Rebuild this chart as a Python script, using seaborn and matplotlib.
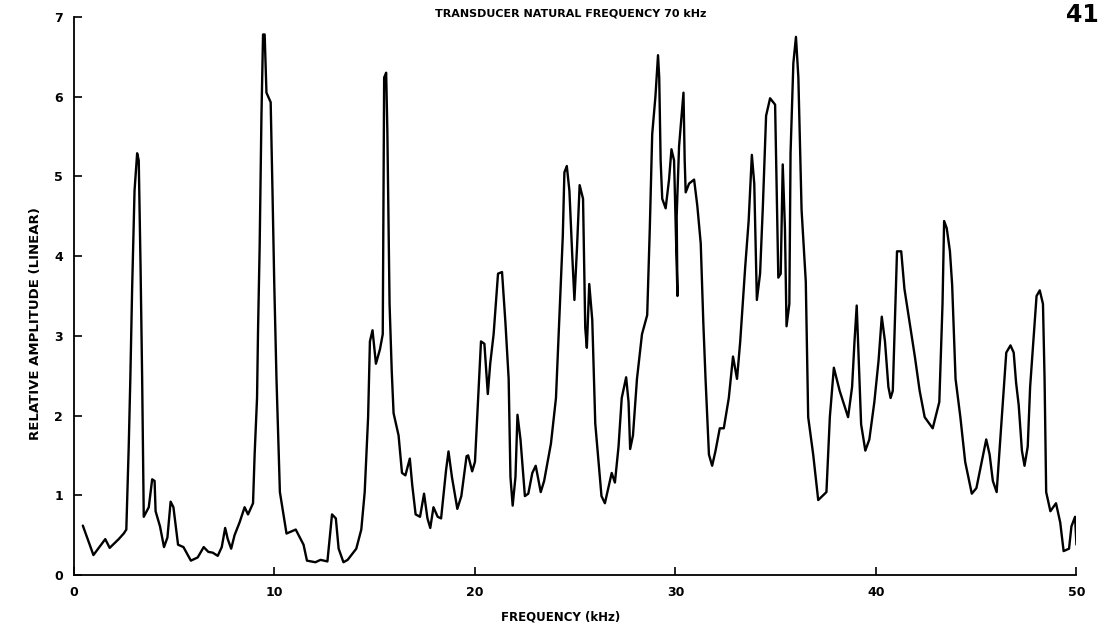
import matplotlib
matplotlib.use("Agg")
import matplotlib.pyplot as plt
import seaborn as sns
import pandas as pd

# Frequency (kHz) and relative amplitude
freq_khz = [
    0.44, 0.97, 1.56, 1.78, 2.23, 2.48, 2.61, 2.73, 2.81, 2.90, 3.02, 3.15, 3.23, 3.32, 3.40, 3.48,
    3.73, 3.90, 4.02, 4.07, 4.29, 4.49, 4.66, 4.82, 4.96, 5.19, 5.46, 5.83, 6.17, 6.47, 6.70, 6.92,
    7.17, 7.37, 7.54, 7.67, 7.84, 8.01, 8.26, 8.51, 8.68, 8.93, 9.01, 9.13, 9.18, 9.26, 9.35, 9.43,
    9.51, 9.60, 9.81, 9.90, 9.99, 10.10, 10.27, 10.60, 11.06, 11.45, 11.62, 12.04, 12.30, 12.64, 12.87,
    13.06, 13.20, 13.44, 13.65, 14.08, 14.33, 14.50, 14.67, 14.76, 14.89, 15.06, 15.26, 15.40, 15.47,
    15.57, 15.63, 15.74, 15.85, 15.94, 16.19, 16.36, 16.53, 16.75, 16.87, 17.04, 17.26, 17.46, 17.63,
    17.77, 17.93, 18.14, 18.31, 18.56, 18.68, 18.85, 19.12, 19.32, 19.58, 19.66, 19.86, 20.00, 20.17,
    20.30, 20.47, 20.64, 20.76, 20.93, 21.15, 21.35, 21.52, 21.68, 21.77, 21.88, 22.02, 22.12, 22.27,
    22.49, 22.66, 22.86, 23.03, 23.28, 23.45, 23.79, 24.04, 24.24, 24.38, 24.46, 24.58, 24.71, 24.85,
    24.96, 25.09, 25.22, 25.39, 25.50, 25.58, 25.70, 25.85, 26.00, 26.20, 26.31, 26.48, 26.65, 26.82,
    26.98, 27.16, 27.32, 27.54, 27.66, 27.74, 27.88, 28.08, 28.33, 28.59, 28.72, 28.84, 29.00, 29.13,
    29.19, 29.26, 29.34, 29.51, 29.68, 29.80, 29.93, 30.00, 30.10, 30.06, 30.18, 30.40, 30.46, 30.51,
    30.68, 30.93, 31.09, 31.26, 31.39, 31.50, 31.67, 31.83, 32.00, 32.21, 32.41, 32.66, 32.87, 33.07,
    33.23, 33.48, 33.65, 33.81, 33.93, 34.06, 34.22, 34.36, 34.52, 34.72, 34.97, 35.05, 35.13, 35.25,
    35.35, 35.46, 35.54, 35.68, 35.74, 35.88, 36.01, 36.13, 36.29, 36.50, 36.62, 36.87, 37.12, 37.53,
    37.70, 37.90, 38.19, 38.61, 38.81, 38.93, 39.04, 39.14, 39.26, 39.47, 39.67, 39.92, 40.13, 40.29,
    40.45, 40.62, 40.73, 40.84, 40.97, 41.05, 41.26, 41.42, 41.62, 41.94, 42.18, 42.43, 42.83, 43.16,
    43.32, 43.40, 43.53, 43.69, 43.80, 43.97, 44.21, 44.45, 44.78, 45.01, 45.31, 45.50, 45.67, 45.83,
    46.02, 46.15, 46.31, 46.50, 46.71, 46.87, 46.99, 47.12, 47.28, 47.41, 47.57, 47.69, 47.85, 48.01,
    48.17, 48.33, 48.41, 48.49, 48.70, 48.98, 49.19, 49.36, 49.63, 49.75, 49.93, 50.00,
]
amplitude = [
    0.62, 0.25, 0.45, 0.34, 0.45, 0.52, 0.57, 1.61, 2.46, 3.59, 4.82, 5.29, 5.20, 3.87, 2.46, 0.73,
    0.85, 1.20, 1.18, 0.80, 0.61, 0.35, 0.47, 0.92, 0.85, 0.38, 0.35, 0.18, 0.22, 0.35, 0.29, 0.28,
    0.24, 0.35, 0.59, 0.45, 0.33, 0.50, 0.66, 0.85, 0.76, 0.90, 1.51, 2.22, 3.07, 4.11, 5.76, 6.78,
    6.78, 6.05, 5.93, 4.82, 3.64, 2.46, 1.04, 0.52, 0.57, 0.38, 0.18, 0.16, 0.19, 0.17, 0.76,
    0.71, 0.33, 0.16, 0.19, 0.33, 0.57, 1.04, 1.98, 2.93, 3.07, 2.65, 2.83, 3.02, 6.24,
    6.30, 5.57, 3.40, 2.55, 2.03, 1.75, 1.28, 1.25, 1.46, 1.13, 0.76, 0.73, 1.02, 0.71,
    0.59, 0.85, 0.73, 0.71, 1.32, 1.55, 1.23, 0.83, 0.99, 1.49, 1.50, 1.30, 1.42, 2.27,
    2.93, 2.90, 2.27, 2.65, 3.02, 3.78, 3.80, 3.16, 2.46, 1.23, 0.87, 1.23, 2.01, 1.70,
    0.99, 1.02, 1.28, 1.37, 1.04, 1.18, 1.65, 2.22, 3.40, 4.25, 5.05, 5.13, 4.82, 4.02,
    3.45, 4.11, 4.89, 4.72, 3.10, 2.85, 3.65, 3.20, 1.90, 1.32, 0.99, 0.90, 1.09, 1.28,
    1.16, 1.61, 2.22, 2.48, 2.17, 1.58, 1.75, 2.46, 3.02, 3.26, 4.35, 5.53, 6.00, 6.52,
    6.24, 5.20, 4.72, 4.60, 4.96, 5.34, 5.20, 4.49, 3.50, 4.50, 5.38, 6.05, 5.20, 4.80,
    4.91, 4.96, 4.63, 4.16, 3.16, 2.46, 1.51, 1.37, 1.56, 1.84, 1.84, 2.22, 2.74, 2.46,
    2.93, 3.87, 4.44, 5.27, 4.91, 3.45, 3.78, 4.63, 5.76, 5.98, 5.90, 4.82, 3.73, 3.78,
    5.15, 4.35, 3.12, 3.40, 5.29, 6.42, 6.75, 6.24, 4.58, 3.68, 1.98, 1.51, 0.94, 1.04,
    1.98, 2.60, 2.31, 1.98, 2.36, 2.93, 3.38, 2.69, 1.89, 1.56, 1.70, 2.17, 2.69, 3.24,
    2.93, 2.36, 2.22, 2.31, 3.40, 4.06, 4.06, 3.59, 3.26, 2.74, 2.31, 1.98, 1.84, 2.17,
    3.40, 4.44, 4.35, 4.06, 3.64, 2.46, 1.98, 1.42, 1.02, 1.09, 1.46, 1.70, 1.51, 1.18,
    1.04, 1.51, 2.08, 2.79, 2.88, 2.79, 2.41, 2.13, 1.56, 1.37, 1.61, 2.36, 2.93, 3.50,
    3.57, 3.40, 2.46, 1.04, 0.80, 0.90, 0.66, 0.30, 0.33, 0.61, 0.73, 0.38,
]

x_ticks = [0, 10, 20, 30, 40, 50]
y_ticks = [0, 1, 2, 3, 4, 5, 6, 7]
title_text = "TRANSDUCER NATURAL FREQUENCY 70 kHz"
x_label = "FREQUENCY (kHz)"
y_label = "RELATIVE AMPLITUDE (LINEAR)"
page_number = "41"

sns.set_style("ticks")
plt.rcParams["font.family"] = ["DejaVu Sans"]
plt.rcParams["text.color"] = "black"
plt.rcParams["axes.labelcolor"] = "black"
plt.rcParams["xtick.color"] = "black"
plt.rcParams["ytick.color"] = "black"

fig = plt.figure(figsize=(11.01, 6.32), dpi=100)
ax = fig.add_axes([0.0672, 0.0902, 0.9105, 0.883])

df = pd.DataFrame({"freq": freq_khz, "amp": amplitude})
sns.lineplot(data=df, x="freq", y="amp", sort=False, estimator=None,
             color="black", linewidth=1.7, ax=ax)

ax.set_xlim(0, 50)
ax.set_ylim(0, 7)
ax.set_xticks(x_ticks)
ax.set_yticks(y_ticks)
ax.set_xticklabels([str(t) for t in x_ticks], fontsize=9, fontweight="bold")
ax.set_yticklabels([str(t) for t in y_ticks], fontsize=9, fontweight="bold")
ax.tick_params(direction="in", length=6, width=1.2, colors="black", pad=8)
sns.despine(ax=ax)
for s in ("left", "bottom"):
    ax.spines[s].set_linewidth(1.3)
    ax.spines[s].set_color("black")

ax.set_xlabel(x_label, fontsize=8.5, fontweight="bold", color="black")
ax.xaxis.set_label_coords(0.485, -0.063)
ax.set_ylabel(y_label, fontsize=9.5, fontweight="bold", color="black")
ax.yaxis.set_label_coords(-0.032, 0.45)

fig.text(0.518, 0.979, title_text, ha="center", va="center",
         fontsize=8, fontweight="bold", color="black")
fig.text(0.998, 0.995, page_number, ha="right", va="top",
         fontsize=17, fontweight="bold", color="black")

fig.savefig("out.png", dpi=100)
